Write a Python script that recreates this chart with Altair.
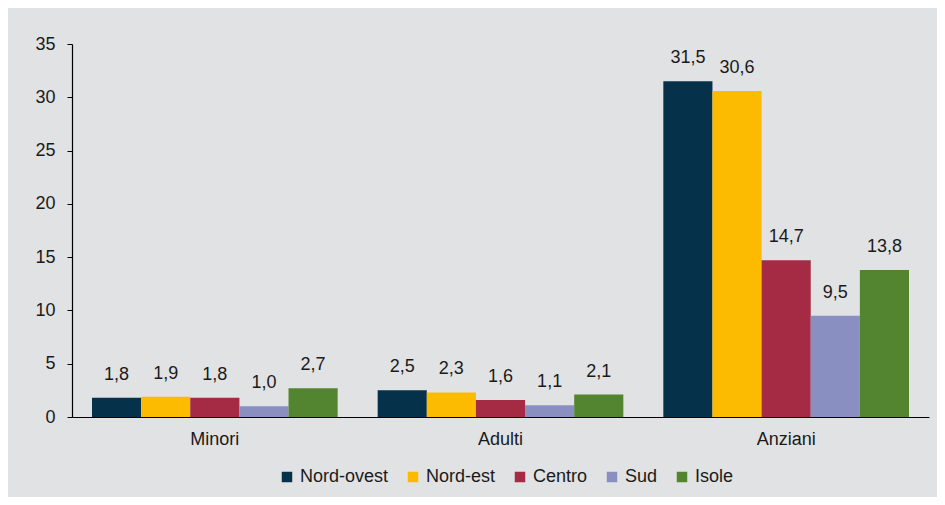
import altair as alt
import pandas as pd

gruppi = ["Minori", "Adulti", "Anziani"]
aree = ["Nord-ovest", "Nord-est", "Centro", "Sud", "Isole"]
colori = ["#05324A", "#FDBB00", "#A52A44", "#8A8FC2", "#538530"]
minori = [1.8, 1.9, 1.8, 1.0, 2.7]
adulti = [2.5, 2.3, 1.6, 1.1, 2.1]
anziani = [31.5, 30.6, 14.7, 9.5, 13.8]
y_ticks = [0, 5, 10, 15, 20, 25, 30, 35]

rows = []
for g, vals in zip(gruppi, [minori, adulti, anziani]):
    for a, v in zip(aree, vals):
        rows.append({"gruppo": g, "area": a, "valore": v,
                     "etichetta": f"{v:.1f}".replace(".", ",")})
df = pd.DataFrame(rows)

TXT = "#1a1a1a"

base = alt.Chart(df).encode(
    x=alt.X("gruppo:N", sort=gruppi,
            scale=alt.Scale(paddingInner=0.14, paddingOuter=0.07),
            axis=alt.Axis(title=None, labelAngle=0, ticks=False, labelPadding=13,
                          domainColor="black", domainWidth=1.2,
                          labelFontSize=18, labelColor=TXT)),
    xOffset=alt.XOffset("area:N", sort=aree,
                        scale=alt.Scale(paddingInner=0, paddingOuter=0)),
    y=alt.Y("valore:Q", scale=alt.Scale(domain=[0, 35]),
            axis=alt.Axis(title=None, values=y_ticks, grid=False, tickSize=5,
                          tickColor="black", labelPadding=12,
                          domainColor="black", domainWidth=1.2,
                          labelFontSize=18, labelColor=TXT)),
)

bars = base.mark_bar().encode(
    color=alt.Color("area:N", sort=aree,
                    scale=alt.Scale(domain=aree, range=colori),
                    legend=alt.Legend(title=None, orient="none", legendX=206, legendY=424,
                                      direction="horizontal", symbolType="square",
                                      symbolSize=110, symbolStrokeWidth=0,
                                      columnPadding=15, labelOffset=4,
                                      labelFontSize=18, labelColor=TXT))
)

text = base.mark_text(baseline="bottom", dy=-14, fontSize=18, color=TXT).encode(
    text="etichetta:N"
)

chart = alt.layer(bars, text).properties(
    width=857, height=373,
    padding={"left": 64, "top": 36, "right": 8, "bottom": 80},
    autosize=alt.AutoSizeParams(type="none"),
    background="#E1E2E4",
).configure(font="Liberation Sans").configure_view(stroke=None)

chart.save("out.html", embed_options={"renderer": "svg", "actions": False})
